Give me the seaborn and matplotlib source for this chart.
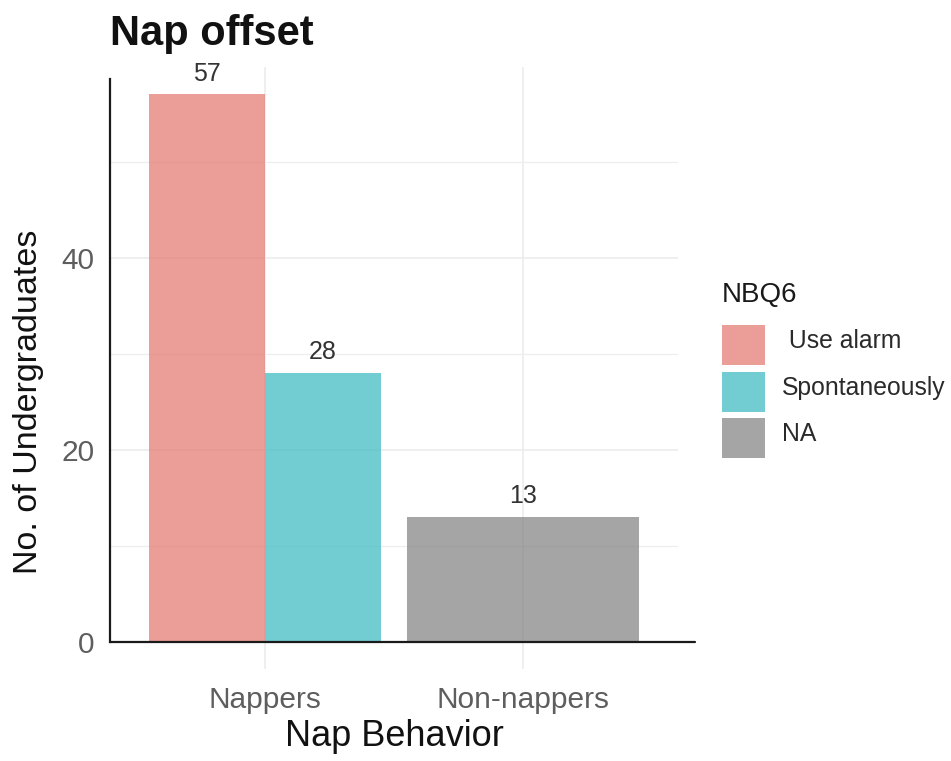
import matplotlib
matplotlib.use("Agg")
import matplotlib.pyplot as plt
from matplotlib.patches import Patch, Rectangle
from matplotlib.legend_handler import HandlerPatch
from matplotlib.ticker import MultipleLocator
import pandas as pd
import seaborn as sns

# Survey counts: nap behaviour split by NBQ6 (how the nap ends)
behaviors = ["Nappers", "Nappers", "Non-nappers"]
nbq6 = [" Use alarm", "Spontaneously", "NA"]
counts = [57, 28, 13]

behavior_order = ["Nappers", "Non-nappers"]
response_order = [" Use alarm", "Spontaneously", "NA"]
response_colors = ["#E3746C", "#36B9BF", "#7F7F7F"]

sns.set_style("white")
plt.rcParams["font.family"] = ["Liberation Sans", "DejaVu Sans"]

df = pd.DataFrame({"behavior": behaviors, "NBQ6": nbq6, "count": counts})
palette = dict(zip(response_order, response_colors))
BAR_ALPHA = 0.7

fig = plt.figure(figsize=(9.51, 7.61), dpi=100)
ax = fig.add_axes([110 / 951, 1 - 669 / 761, 568 / 951, 602 / 761])

# one dodged group per behaviour so a lone bar takes the full slot width
for grp in behavior_order:
    sub = df[df["behavior"] == grp]
    levels = [r for r in response_order if r in set(sub["NBQ6"])]
    sns.barplot(data=sub, x="behavior", y="count", hue="NBQ6",
                order=behavior_order, hue_order=levels, palette=palette,
                saturation=1, width=0.9, dodge=True, errorbar=None,
                alpha=BAR_ALPHA, linewidth=0, legend=False, ax=ax, zorder=2)

for cont in ax.containers:
    ax.bar_label(cont, fmt="{:.0f}", padding=6, fontsize=18, color="#333333")

# scales
ax.set_xlim(-0.6, 1.6)
ax.set_ylim(-2.85, 59.85)
ax.yaxis.set_major_locator(MultipleLocator(20))
ax.yaxis.set_minor_locator(MultipleLocator(10))

# light panel grid
ax.set_axisbelow(True)
ax.grid(which="major", color="#EBEBEB", linewidth=1.1)
ax.grid(which="minor", axis="y", color="#EEEEEE", linewidth=0.9)

ax.tick_params(which="both", length=0, labelsize=21.5, labelcolor="#5E5E5E")
ax.tick_params(axis="x", pad=12)
ax.tick_params(axis="y", pad=11)

# axis lines
for side in ("top", "right", "bottom"):
    ax.spines[side].set_visible(False)
ax.spines["left"].set_bounds(0, 58.6)
ax.spines["left"].set_linewidth(1.6)
ax.spines["left"].set_color("#1A1A1A")
ax.axhline(0, xmin=0, xmax=(1.667 + 0.6) / 2.2, color="#1A1A1A",
           linewidth=1.6, clip_on=False, zorder=3)

ax.set_xlabel("Nap Behavior", fontsize=26, color="#111111")
ax.xaxis.set_label_coords(0.5, -0.083)
ax.set_ylabel("No. of Undergraduates", fontsize=24.5, color="#111111")
ax.yaxis.set_label_coords(-0.1162, 0.4435)

ax.set_title("Nap offset", loc="left", fontsize=30, fontweight="bold",
             color="#111111", pad=15.5)


# legend keys sit a little lower than the label baseline
def lowered_key(legend, orig_handle, xdescent, ydescent, width, height, fontsize):
    return Rectangle((-xdescent, -ydescent - 3.3), width, height)


fs = 17.8
fs_px = fs * 100 / 72
key_h_pt = 40 * 72 / 100
handleheight = (key_h_pt / fs - 0.245) / 0.65

handles = [Patch(facecolor=palette[r], alpha=BAR_ALPHA, linewidth=0, label=r)
           for r in response_order]
leg = fig.legend(handles=handles, title="NBQ6", loc="upper left",
                 bbox_to_anchor=(722 / 951, 1 - 282 / 761), frameon=False,
                 fontsize=fs, title_fontsize=20,
                 handlelength=43 / fs_px, handleheight=handleheight,
                 handletextpad=17 / fs_px, labelspacing=6.5 / fs_px,
                 borderpad=0, borderaxespad=0, alignment="left",
                 handler_map={Patch: HandlerPatch(patch_func=lowered_key)})
leg._legend_box.sep = 9.0
for t in leg.get_texts():
    t.set_color("#2A2A2A")
leg.get_title().set_color("#1A1A1A")

fig.savefig("out.png", dpi=100)
